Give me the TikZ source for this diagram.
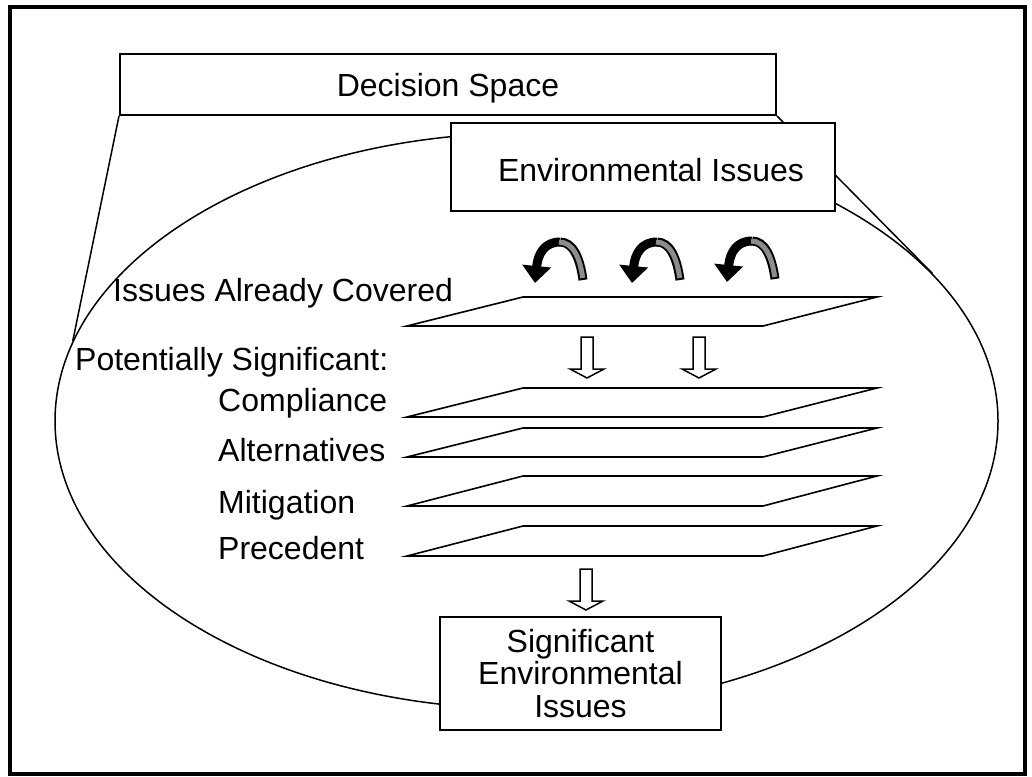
\documentclass[tikz,border=0pt]{standalone}
\usepackage{fontspec}
\setmainfont{Liberation Sans}
\usetikzlibrary{arrows.meta,shapes.geometric}
\begin{document}
\begin{tikzpicture}[x=1pt,y=-1pt,
  lbl/.style={inner sep=0pt, font=\fontsize{32}{32.5}\selectfont},
  box/.style={draw, line width=2pt, fill=white, inner sep=0pt, lbl},
  thinline/.style={line width=1.5pt},
  plane/.style={draw, line width=1.6pt, fill=white},
  hollow/.style={draw, line width=1.5pt, fill=white, line join=miter},
  turnarrow/.pic={
    \draw[line width=9pt, -{Triangle[width=28pt,length=17pt]}] (25,-41) .. controls (10,-41) and (3,-30) .. (0,0);
    \draw[line width=9pt] (48,-3) .. controls (45,-25) and (38,-41) .. (25,-41);
    \draw[line width=5pt, black!45] (47.7,-5) .. controls (45,-25) and (38,-41) .. (24,-41);
  },
  downarrow/.pic={
    \draw[hollow] (-6,0) -- (6,0) -- (6,32) -- (17,32) -- (0,41) -- (-17,32) -- (-6,32) -- cycle;
  }]
\useasboundingbox (0,0) rectangle (1032,776);
\draw[line width=3.5pt] (10,7) rectangle (1025,774);
% decision space ellipse
\node[draw, thinline, ellipse, minimum width=943pt, minimum height=576pt, inner sep=0pt] (space) at (526.5,421) {};
% boxes
\node[box, text depth=0pt, minimum width=656pt, minimum height=61pt] (ds) at (448,84.5) {Decision Space};
\draw[thinline] (ds.south west) -- (space.170.8);
\draw[thinline] (ds.south east) -- (space.20.4);
\node[box, minimum width=384pt, minimum height=88pt,
  label={[lbl, xshift=8pt, yshift=-3pt]center:Environmental Issues}] (env) at (643,167) {};
\node[box, align=center, minimum width=281pt, minimum height=113pt] (sig) at (580.5,673.5) {Significant\\Environmental\\Issues};
% planes
\foreach \t/\b in {297/326, 388/417, 428/457, 476/506, 526/556}
  \draw[plane] (407,\b) -- (523,\t) -- (877,\t) -- (763,\b) -- cycle;
% turning arrows
\pic at (535,283) {turnarrow};
\pic at (632,283) {turnarrow};
\pic at (727,282) {turnarrow};
% hollow arrows
\pic at (587,337) {downarrow};
\pic at (699,337) {downarrow};
\pic at (586,569) {downarrow};
% labels
\node[lbl, anchor=base west] (covered) at (113,301) {Issues Already Covered};
\node[lbl, anchor=base west] (potsig) at (75,370) {Potentially Significant:};
\node[lbl, anchor=base west] (compl) at (218,411) {Compliance};
\node[lbl, anchor=base west] (alt) at (218,461) {Alternatives};
\node[lbl, anchor=base west] (mit) at (218,513) {Mitigation};
\node[lbl, anchor=base west] (prec) at (218,559) {Precedent};
\end{tikzpicture}
\end{document}
